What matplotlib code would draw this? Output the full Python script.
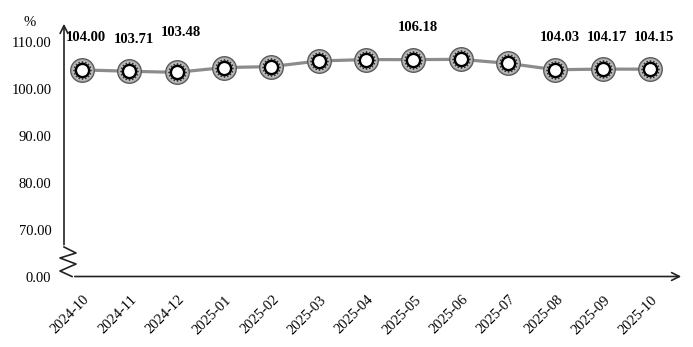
import matplotlib
matplotlib.use("Agg")
import matplotlib.pyplot as plt
import matplotlib.transforms as mtransforms
from matplotlib.path import Path
import numpy as np

months = ["2024-10", "2024-11", "2024-12", "2025-01", "2025-02", "2025-03", "2025-04",
          "2025-05", "2025-06", "2025-07", "2025-08", "2025-09", "2025-10"]
values = [104.00, 103.71, 103.48, 104.5, 104.7, 105.9, 106.2,
          106.18, 106.25, 105.4, 104.03, 104.17, 104.15]
labeled = [0, 1, 2, 7, 10, 11, 12]
yticks = [0, 70, 80, 90, 100, 110]

plt.rcParams["font.family"] = ["Liberation Serif", "DejaVu Serif"]


# broken axis: 0..70 squeezed into the height of 10 units
def fwd(y):
    y = np.asarray(y, dtype=float)
    return np.where(y >= 70, y - 60, y * 10 / 70)


def inv(t):
    t = np.asarray(t, dtype=float)
    return np.where(t >= 10, t + 60, t * 70 / 10)


# ring of small dots, like the rollers of a bearing
ang = np.linspace(0, 2 * np.pi, 16, endpoint=False)
rollers = Path.make_compound_path(*[Path.circle((np.cos(a), np.sin(a)), 0.11) for a in ang])

W, H = 693, 347
fig = plt.figure(figsize=(W / 100, H / 100), dpi=100)
ax = fig.add_axes([64 / W, 1 - 276.5 / H, (683 - 64) / W, (276.5 - 22) / H])
ax.set_yscale("function", functions=(fwd, inv))
ax.set_ylim(0, 114.2)
ax.set_xlim(-0.38, 12.7)

x = np.arange(len(months))
ax.plot(x, values, color="#8c8c8c", lw=2.3, zorder=2)
ax.plot(x, values, "o", ms=17, mfc="#a8a8a8", mec="#555555", mew=0.9, zorder=3)
ax.plot(x, values, "o", ms=14.5, mfc="#c4c4c4", mec="none", zorder=4)
ax.plot(x, values, ls="none", marker=rollers, ms=13.5, mfc="#333333", mec="none", zorder=5)
ax.plot(x, values, "o", ms=9.5, mfc="white", mec="black", mew=1.7, zorder=6)

for i in labeled:
    dy = 23 if i != 2 else 29
    ax.annotate(f"{values[i]:.2f}", (x[i], values[i]), xytext=(3, dy),
                textcoords="offset points", ha="center", va="center",
                fontsize=10.5, fontweight="bold", color="black")

for s in ax.spines.values():
    s.set_visible(False)

ax.set_yticks(yticks)
ax.set_yticklabels([f"{v:.2f}" for v in yticks], fontsize=10.5)
ax.tick_params(axis="y", length=0, pad=9)
ax.set_xticks(x)
ax.set_xticklabels(months, rotation=45, ha="right", rotation_mode="anchor", fontsize=10.5)
ax.tick_params(axis="x", length=0, pad=12)
off = mtransforms.ScaledTranslation(1 / 100, 0, fig.dpi_scale_trans)
for lab in ax.get_xticklabels():
    lab.set_transform(lab.get_transform() + off)

# axis lines with arrows and the zigzag break (figure pixel coordinates)
def fp(px, py):
    return px / W, 1 - py / H

fig.add_artist(plt.Line2D(*zip(*[fp(64, 247), fp(76, 253), fp(60, 258), fp(76, 264),
                                 fp(60, 271), fp(72, 276.5)]),
                          color="#222222", lw=1.2))
ax.annotate("", xy=fp(64, 21), xytext=fp(64, 247.5), xycoords="figure fraction",
            arrowprops=dict(arrowstyle="->", color="#222222", lw=1.2, mutation_scale=14))
ax.annotate("", xy=fp(684, 276.5), xytext=fp(72, 276.5), xycoords="figure fraction",
            arrowprops=dict(arrowstyle="->", color="#222222", lw=1.2, mutation_scale=14))

fig.text(30 / W, 1 - 22 / H, "%", fontsize=10.5, ha="center", va="center")

fig.savefig("out.png", dpi=100)
